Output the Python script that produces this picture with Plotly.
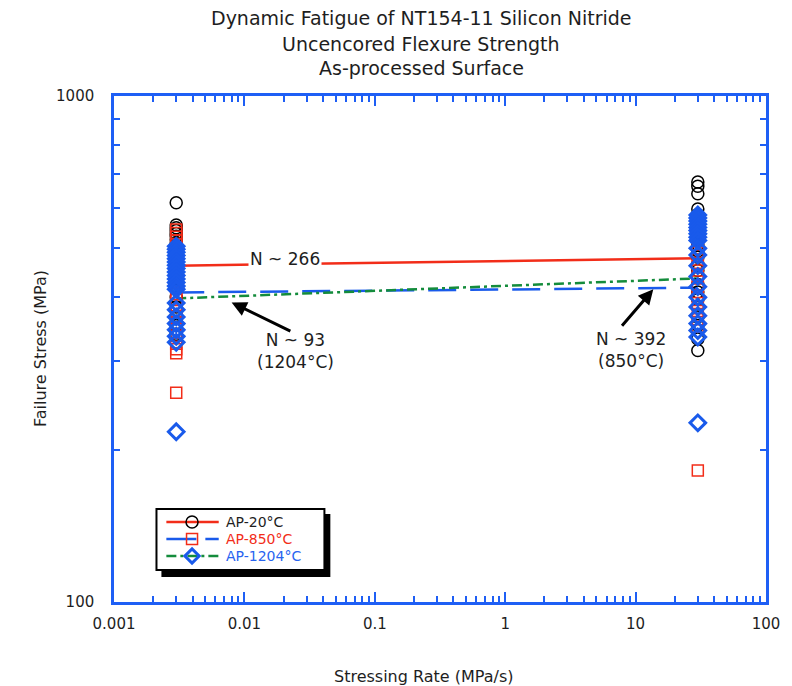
import plotly.graph_objects as go

# ---------------- data ----------------
rate_low = 0.003
rate_high = 30.0

ap20_low = [615, 556, 549, 542, 535, 528, 520, 512, 503, 494, 485, 476, 466, 456, 446, 436, 420, 400, 383, 368, 352, 338]
ap20_high = [676, 663, 641, 598, 583, 568, 553, 538, 523, 508, 494, 480, 466, 452, 438, 424, 410, 396, 382, 366, 352, 331, 314]

ap850_low = [545, 536, 527, 518, 509, 500, 490, 478, 466, 454, 442, 430, 418, 406, 396, 386, 376, 366, 356, 346, 336, 324, 316, 310, 259]
ap850_high = [565, 548, 532, 516, 500, 484, 468, 452, 436, 420, 404, 390, 376, 362, 350, 182]

ap1204_low = [505, 498, 491, 484, 477, 470, 463, 456, 449, 442, 435, 428, 421, 415, 390, 378, 366, 355, 345, 335, 326, 217]
ap1204_high = [582, 574, 566, 558, 550, 542, 534, 526, 518, 500, 485, 462, 440, 420, 400, 383, 368, 355, 344, 334, 226]

fit_rates = [0.003, 30.0]
fit20 = [462, 478]
fit850 = [409, 418]
fit1204 = [398, 436]

series_names = ["AP-20°C", "AP-850°C", "AP-1204°C"]

x_ticks = [0.001, 0.01, 0.1, 1, 10, 100]
x_ticklabels = ["0.001", "0.01", "0.1", "1", "10", "100"]
y_ticks = [100, 1000]
y_ticklabels = ["100", "1000"]
mantissas = [2, 3, 4, 5, 6, 7, 8, 9]
x_minor = [m * 10.0 ** k for k in range(-3, 2) for m in mantissas]
y_minor = [m * 100 for m in mantissas]

# ---------------- styles ----------------
RED = "rgb(242,45,25)"
BLUE = "rgb(25,90,235)"
GREEN = "rgb(20,140,60)"
AXBLUE = "rgb(30,95,245)"
LEGBLUE = "rgb(40,100,240)"
TXT = "#1e1e1e"
FONT = "DejaVu Sans, Verdana, sans-serif"

W, H = 792, 686
L, R, T, B = 114, 18, 96, 84
pw, ph = W - L - R, H - T - B


def px(xp):
    return (xp - L) / pw


def py(yp):
    return (H - B - yp) / ph


fig = go.Figure()

# fit lines
fig.add_trace(go.Scatter(x=fit_rates, y=fit20, mode="lines",
                         line=dict(color=RED, width=2.5), showlegend=False))
fig.add_trace(go.Scatter(x=fit_rates, y=fit850, mode="lines",
                         line=dict(color=BLUE, width=2.5, dash="28px,14px"), showlegend=False))
fig.add_trace(go.Scatter(x=fit_rates, y=fit1204, mode="lines",
                         line=dict(color=GREEN, width=2.5, dash="10px,4px,3px,4px"), showlegend=False))


def pts(low, high):
    xs = [rate_low] * len(low) + [rate_high] * len(high)
    ys = list(low) + list(high)
    return xs, ys


x20, y20 = pts(ap20_low, ap20_high)
x850, y850 = pts(ap850_low, ap850_high)
x1204, y1204 = pts(ap1204_low, ap1204_high)

M20 = dict(symbol="circle-open", size=12, color="black", line=dict(width=1.5, color="black"))
M850 = dict(symbol="square-open", size=11, color=RED, line=dict(width=1.5, color=RED))
M1204 = dict(symbol="diamond-open", size=12, color=BLUE, line=dict(width=3, color=BLUE))

fig.add_trace(go.Scatter(x=x20, y=y20, mode="markers", name=series_names[0],
                         showlegend=False, marker=M20))
fig.add_trace(go.Scatter(x=x850, y=y850, mode="markers", name=series_names[1],
                         showlegend=False, marker=M850))
fig.add_trace(go.Scatter(x=x1204, y=y1204, mode="markers", name=series_names[2],
                         showlegend=False, marker=M1204))

# ---------------- hand-drawn legend (overlay axes in plot fractions) ----------------
leg_rows = [522, 539, 556]
leg_x0, leg_x1, leg_xm, leg_xt = 167, 220, 193, 225
leg_lines = [dict(color=RED, width=2.5),
             dict(color=BLUE, width=2.5, dash="30px,9px"),
             dict(color=GREEN, width=2.5, dash="10px,4px,3px,4px")]
leg_markers = [M20, M850, dict(M1204, size=11)]
leg_colors = [TXT, RED, LEGBLUE]

for row, ln, mk in zip(leg_rows, leg_lines, leg_markers):
    fig.add_trace(go.Scatter(x=[px(leg_x0), px(leg_x1)], y=[py(row), py(row)], mode="lines",
                             line=ln, xaxis="x2", yaxis="y2", showlegend=False, hoverinfo="skip"))
    fig.add_trace(go.Scatter(x=[px(leg_xm)], y=[py(row)], mode="markers",
                             marker=mk, xaxis="x2", yaxis="y2", showlegend=False, hoverinfo="skip"))

axis_common = dict(
    showline=True, linecolor=AXBLUE, linewidth=2.5, mirror="ticks",
    ticks="inside", tickcolor=AXBLUE, tickwidth=1.5, ticklen=10,
    showgrid=False, zeroline=False,
    tickfont=dict(family=FONT, size=15, color=TXT),
)

fig.update_xaxes(type="log", range=[-3, 2], tickvals=x_ticks, ticktext=x_ticklabels,
                 ticklabelstandoff=6,
                 minor=dict(tickmode="array", tickvals=x_minor, ticks="inside", ticklen=6,
                            tickcolor=AXBLUE, tickwidth=1.5, showgrid=False),
                 **axis_common)
fig.update_yaxes(type="log", range=[2, 3], tickvals=y_ticks, ticktext=y_ticklabels,
                 ticklabelstandoff=14,
                 minor=dict(tickmode="array", tickvals=y_minor, ticks="inside", ticklen=6,
                            tickcolor=AXBLUE, tickwidth=1.5, showgrid=False),
                 **axis_common)

title_lines = ["Dynamic Fatigue of NT154-11 Silicon Nitride",
               "Uncencored Flexure Strength",
               "As-processed Surface"]
title_y = [18, 44, 68]

annotations = []
for txt, yy in zip(title_lines, title_y):
    annotations.append(dict(xref="paper", yref="paper", x=px(425), y=1, yshift=T - yy,
                            text=txt, showarrow=False, xanchor="center", yanchor="middle",
                            font=dict(family=FONT, size=19, color=TXT)))

annotations += [
    dict(xref="paper", yref="paper", x=0, y=0.5, xshift=-74, text="Failure Stress (MPa)",
         textangle=-90, showarrow=False, font=dict(family=FONT, size=16, color=TXT),
         xanchor="center", yanchor="middle"),
    dict(xref="paper", yref="paper", x=0.5, y=0, xshift=-16, yshift=-74,
         text="Stressing Rate (MPa/s)", showarrow=False,
         font=dict(family=FONT, size=16, color=TXT), xanchor="center", yanchor="middle"),
    dict(xref="x", yref="y", x=-1.689, y=2.678, text="N ~ 266", showarrow=False,
         bgcolor="white", font=dict(family=FONT, size=17, color=TXT),
         xanchor="center", yanchor="middle"),
    dict(xref="x", yref="y", x=-1.606, y=2.496, text="N ~ 93<br>(1204°C)", showarrow=False,
         font=dict(family=FONT, size=17, color=TXT), xanchor="center", yanchor="middle"),
    dict(xref="x", yref="y", x=0.962, y=2.498, text="N ~ 392<br>(850°C)", showarrow=False,
         font=dict(family=FONT, size=17, color=TXT), xanchor="center", yanchor="middle"),
    dict(xref="x", yref="y", axref="x", ayref="y", x=-2.098, y=2.592, ax=-1.636, ay=2.534,
         text="", showarrow=True, arrowhead=2, arrowsize=1, arrowwidth=3, arrowcolor="black"),
    dict(xref="x", yref="y", axref="x", ayref="y", x=1.136, y=2.618, ax=0.886, ay=2.543,
         text="", showarrow=True, arrowhead=2, arrowsize=1, arrowwidth=3, arrowcolor="black"),
]

for name, yy, col in zip(series_names, leg_rows, leg_colors):
    annotations.append(dict(xref="paper", yref="paper", x=px(leg_xt), y=py(yy), text=name,
                            showarrow=False, xanchor="left", yanchor="middle",
                            font=dict(family=FONT, size=14, color=col)))

shapes = [
    dict(type="rect", xref="paper", yref="paper",
         x0=px(162), x1=px(333), y0=py(577), y1=py(514),
         fillcolor="black", line=dict(width=0), layer="below"),
    dict(type="rect", xref="paper", yref="paper",
         x0=px(157), x1=px(327), y0=py(570), y1=py(509),
         fillcolor="white", line=dict(width=2, color="black"), layer="below"),
]

fig.update_layout(
    width=W, height=H,
    margin=dict(l=L, r=R, t=T, b=B),
    paper_bgcolor="white", plot_bgcolor="white",
    font=dict(family=FONT, color=TXT),
    showlegend=False,
    xaxis2=dict(overlaying="x", range=[0, 1], visible=False, fixedrange=True),
    yaxis2=dict(overlaying="y", anchor="x2", range=[0, 1], visible=False, fixedrange=True),
    annotations=annotations,
    shapes=shapes,
)

fig.write_html("out.html")
